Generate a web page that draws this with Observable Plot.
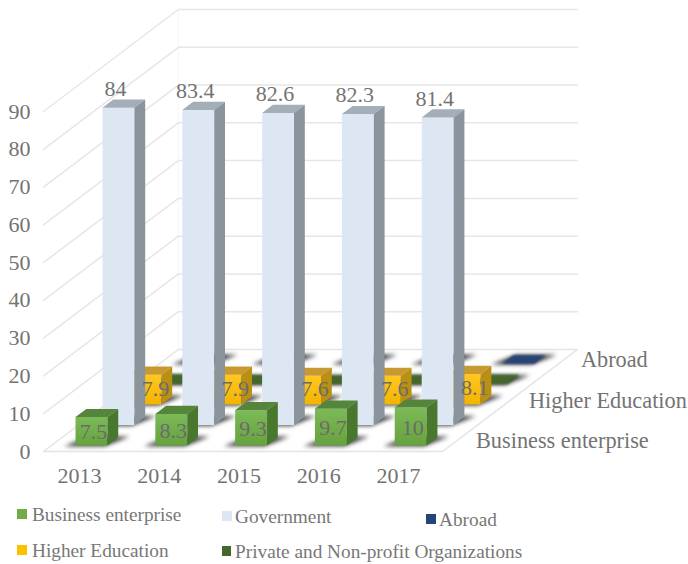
<!DOCTYPE html>
<html>
<head>
<meta charset="utf-8">
<script src="https://cdn.jsdelivr.net/npm/d3@7"></script>
<script src="https://cdn.jsdelivr.net/npm/@observablehq/plot@0.6"></script>
<style>
  html, body { margin: 0; padding: 0; background: #fff; }
  #chart { position: relative; width: 688px; height: 564px; overflow: hidden; }
  #chart svg { display: block; }
  .key { position: absolute; font: 19.3px "Liberation Serif", serif; color: #777; line-height: 20px; white-space: nowrap; }
  .key i { position: absolute; top: 4px; width: 9.5px; height: 10px; }
</style>
</head>
<body>
<div id="chart"></div>
<script>
// Share of research funding by source, 2013-2017 (percent)
const years = [2013, 2014, 2015, 2016, 2017];
const business = [7.5, 8.3, 9.3, 9.7, 10];
const government = [84, 83.4, 82.6, 82.3, 81.4];
const higherEducation = [7.9, 7.9, 7.6, 7.6, 8.1];
const privateNonProfit = [0.5, 0.3, 0.1, 0.3, 0.4];
const abroad = [0.1, 0.1, 0.1, 0.1, 0.1];
const yTicks = [0, 10, 20, 30, 40, 50, 60, 70, 80, 90];

// Rows run from the front of the floor to the back
const rows = [
  {name: "Business enterprise", values: business, front: "url(#greenFront)", top: "#55853a", side: "#47782d", swatch: "#70ad47"},
  {name: "Government", values: government, front: "#dde7f3", top: "#a4aeb8", side: "#8a949d", swatch: "#dde7f3"},
  {name: "Higher Education", values: higherEducation, front: "url(#yellowFront)", top: "#c8992f", side: "#b98f14", swatch: "#ffc000"},
  {name: "Private and Non-profit Organizations", values: privateNonProfit, front: "#43682b", top: "#43682b", side: "#3a5a26", swatch: "#43682b"},
  {name: "Abroad", values: abroad, front: "#264478", top: "#264478", side: "#1f3864", swatch: "#264478"}
];

// Oblique projection: each row of depth shifts a point right and up in scale units
const depthX = 0.338;
const depthY = 5.4;
const at = (cat, depth, value) => ({x: cat + depth * depthX, y: value + depth * depthY});
const poly = (id, fill, pts) => pts.map(([c, d, v]) => ({id, fill, ...at(c, d, v)}));

const shadows = [];
const flatFaces = [];
const faces = [];
// Back rows are painted first so nearer boxes cover them
for (let r = rows.length - 1; r >= 0; --r) {
  const row = rows[r];
  const target = r >= 3 ? flatFaces : faces;
  row.values.forEach((v, i) => {
    const c0 = i + 0.3, c1 = i + 0.7, d0 = r + 0.3, d1 = r + 0.7;
    shadows.push(...poly(`s${r}-${i}`, "#333333", [[c0 - 0.13, d0 - 0.04, 0], [c1 - 0.02, d0 - 0.04, 0], [c1 + 0.13, d1 + 0.04, 0], [c0 + 0.02, d1 + 0.04, 0]]));
    target.push(...poly(`f${r}-${i}`, row.front, [[c0, d0, 0], [c1, d0, 0], [c1, d0, v], [c0, d0, v]]));
    target.push(...poly(`t${r}-${i}`, row.top, [[c0, d0, v], [c1, d0, v], [c1, d1, v], [c0, d1, v]]));
    target.push(...poly(`r${r}-${i}`, row.side, [[c1, d0, 0], [c1, d1, 0], [c1, d1, v], [c1, d0, v]]));
  });
}

// Floor outline and the wall gridlines wrapping around the back-left corner
const gridPts = yTicks.slice(1).flatMap(v => [[0, 0, v], [0, 5, v], [5, 5, v]].map(([c, d, t]) => ({id: v, ...at(c, d, t)})));
const floorPts = [[0, 5, 0], [0, 0, 0], [5, 0, 0], [5, 5, 0], [0, 5, 0]].map(([c, d, v]) => at(c, d, v));
const wallPts = [[0, 5, 0], [0, 5, 90]].map(([c, d, v]) => at(c, d, v));

const businessLabels = business.map((v, i) => ({v, ...at(i + 0.5, 0.3, v / 2)}));
const higherLabels = higherEducation.map((v, i) => ({v, ...at(i + 0.5, 2.3, v / 2)}));
const topLabels = government.map((v, i) => ({v, ...at(i + 0.5, 1.3, v)}));

const serif = "Liberation Serif";
const ink = "#737373";
const labelStyle = {x: "x", y: "y", text: d => String(d.v), fontSize: 22, fontFamily: serif};
const depthLabel = (r, dx) => Plot.text([{name: rows[r].name, ...at(5, r + 0.5, 0)}], {x: "x", y: "y", text: "name", dx, textAnchor: "start", fontSize: 22.3, fontFamily: serif, fill: ink});

const gradient = (id, a, b) => `<linearGradient id="${id}" x1="0" y1="0" x2="0" y2="1"><stop offset="0" stop-color="${a}"/><stop offset="1" stop-color="${b}"/></linearGradient>`;

const plot = Plot.plot({
  width: 688,
  height: 500,
  marginLeft: 34,
  marginBottom: 33,
  marginTop: 0,
  marginRight: 0,
  x: {domain: [0, 5], range: [43, 442], axis: null},
  y: {domain: [0, 90], range: [451, 111], axis: null},
  color: {type: "identity"},
  style: {background: "transparent"},
  marks: [
    () => {
      const g = document.createElementNS("http://www.w3.org/2000/svg", "defs");
      g.innerHTML = gradient("greenFront", "#7cb957", "#66a33f") + gradient("yellowFront", "#ffc71f", "#f4b400");
      return g;
    },
    Plot.line(wallPts, {x: "x", y: "y", stroke: "#f7f7f7", strokeWidth: 1}),
    Plot.line(gridPts, {x: "x", y: "y", z: "id", stroke: "#e6e6e6", strokeWidth: 1.5}),
    Plot.line(floorPts, {x: "x", y: "y", stroke: "#e4e4e4", strokeWidth: 1.5}),
    Plot.axisY(yTicks, {anchor: "left", label: null, tickSize: 0, tickPadding: 4, fontSize: 22, fontFamily: serif, color: ink}),
    Plot.axisX(years.map((_, i) => i + 0.5), {anchor: "bottom", label: null, tickSize: 0, tickPadding: 0, tickFormat: t => String(years[t - 0.5]), dx: -4, fontSize: 22, fontFamily: serif, color: ink}),
    Plot.line(shadows, {x: "x", y: "y", z: "id", fill: "fill", stroke: "none", curve: "linear-closed", fillOpacity: 0.95, imageFilter: "blur(2px)"}),
    // The two nearly empty rows lie flat on the floor with soft edges
    Plot.line(flatFaces, {x: "x", y: "y", z: "id", fill: "fill", stroke: "none", curve: "linear-closed", imageFilter: "blur(0.8px)"}),
    Plot.line(faces, {x: "x", y: "y", z: "id", fill: "fill", stroke: "none", curve: "linear-closed"}),
    depthLabel(0, 20),
    depthLabel(2, 19),
    depthLabel(4, 17),
    Plot.text(businessLabels, {...labelStyle, dx: 2, dy: 1, fill: "#6b6b6b"}),
    Plot.text(higherLabels, {...labelStyle, dx: 10, dy: -1, fill: "#6b6b6b"}),
    Plot.text(topLabels, {...labelStyle, dx: -3, dy: -19, fill: ink})
  ]
});

const chart = document.getElementById("chart");
chart.appendChild(plot);

// Legend entries sit below the plot in two loose rows
const legendPlaces = [
  {row: 0, left: 32, top: 505, gap: -15},
  {row: 1, left: 235, top: 507, gap: -13},
  {row: 2, left: 32, top: 541, gap: -15},
  {row: 3, left: 235, top: 542, gap: -13.5},
  {row: 4, left: 439, top: 510, gap: -13}
];
for (const {row, left, top, gap} of legendPlaces) {
  const key = d3.select(chart).append("div").attr("class", "key").style("left", left + "px").style("top", top + "px").text(rows[row].name);
  key.append("i").style("left", gap + "px").style("background", rows[row].swatch);
}
</script>
</body>
</html>
